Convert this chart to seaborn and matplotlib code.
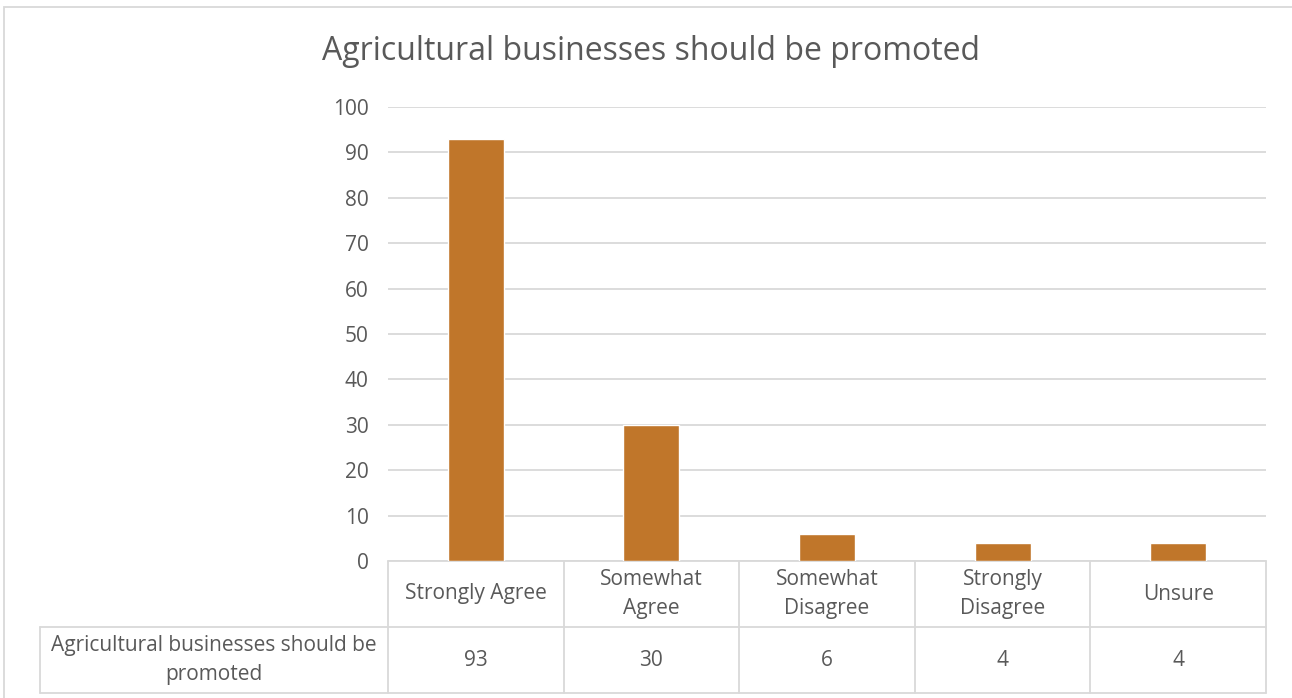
import matplotlib
matplotlib.use("Agg")
import matplotlib.pyplot as plt
import seaborn as sns
import pandas as pd
from matplotlib.patches import Rectangle

# chart data
categories = ["Strongly Agree", "Somewhat\nAgree", "Somewhat\nDisagree", "Strongly\nDisagree", "Unsure"]
counts = [93, 30, 6, 4, 4]
series_name = "Agricultural businesses should be\npromoted"
title = "Agricultural businesses should be promoted"
y_ticks = list(range(0, 101, 10))

sns.set_theme(style="white")
plt.rcParams["font.family"] = ["Open Sans", "DejaVu Sans"]

text_color = "#595959"
line_color = "#D9D9D9"
bar_color = "#C0762A"
fs = 15

df = pd.DataFrame({"category": categories, "count": counts})

W, H = 1292, 698
fig = plt.figure(figsize=(W / 100, H / 100), dpi=100)
ax = fig.add_axes([388 / W, 1 - 561 / H, (1266 - 388) / W, (561 - 107) / H])

sns.barplot(data=df, x="category", y="count", color=bar_color, width=0.32,
            saturation=1, ax=ax, zorder=3)

ax.set_xlim(-0.5, len(categories) - 0.5)
ax.set_ylim(0, 100)
ax.set_yticks(y_ticks)
ax.set_yticklabels([str(t) for t in y_ticks], color=text_color, fontsize=fs)
ax.tick_params(axis="y", length=0, pad=14)
ax.tick_params(axis="x", bottom=False, labelbottom=False)
ax.set_xlabel("")
ax.set_ylabel("")
ax.yaxis.grid(True, color=line_color, lw=1.3)
ax.set_axisbelow(True)
for s in ax.spines.values():
    s.set_visible(False)

# data table below the axes
tr = ax.get_xaxis_transform()
r = 66 / 454
left = -0.5 - (388 - 40) / ((1266 - 388) / len(categories))
right = len(categories) - 0.5
kw = dict(transform=tr, color=line_color, lw=1.3, clip_on=False)
ax.plot([-0.5, right], [0, 0], **kw)
ax.plot([left, right], [-r, -r], **kw)
ax.plot([left, right], [-2 * r, -2 * r], **kw)
for i in range(len(categories) + 1):
    ax.plot([i - 0.5, i - 0.5], [0, -2 * r], **kw)
ax.plot([left, left], [-r, -2 * r], **kw)

for i, (c, v) in enumerate(zip(categories, counts)):
    ax.text(i, -r / 2, c, transform=tr, ha="center", va="center",
            fontsize=fs, color=text_color, linespacing=1.45)
    ax.text(i, -1.5 * r, str(v), transform=tr, ha="center", va="center",
            fontsize=fs, color=text_color)
ax.text((left - 0.5) / 2, -1.5 * r, series_name, transform=tr, ha="center",
        va="center", fontsize=fs, color=text_color, linespacing=1.45)

fig.text(651 / W, 1 - 52 / H, title, ha="center", va="center",
         fontsize=23, color=text_color)

# chart area border
fig.patches.append(Rectangle((4 / W, -0.1), 1.2, 1.1 - 7 / H, transform=fig.transFigure,
                             fill=False, ec=line_color, lw=1.3))

fig.savefig("out.png", dpi=100)
